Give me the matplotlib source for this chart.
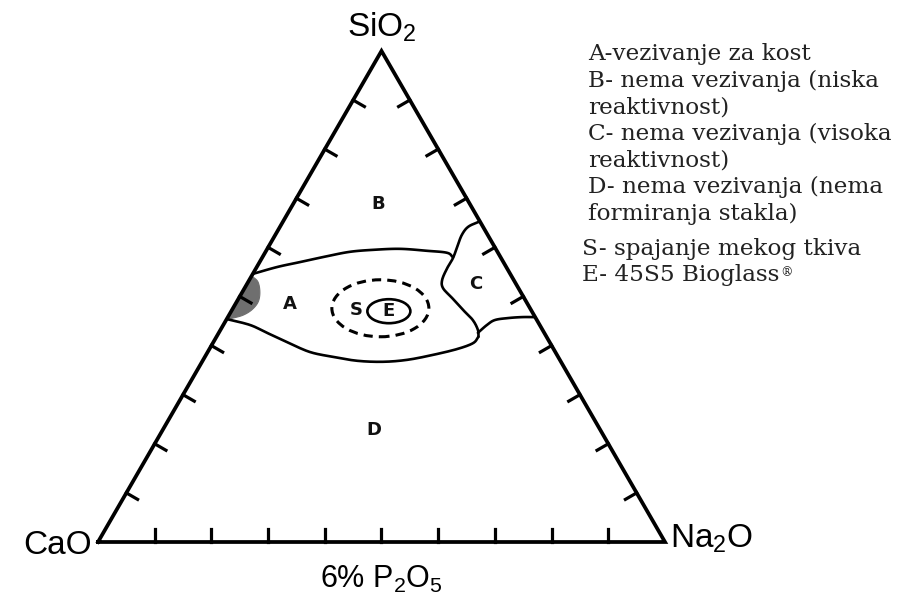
import numpy as np
import matplotlib
matplotlib.use("Agg")
import matplotlib.pyplot as plt
from matplotlib.patches import Ellipse, Polygon

plt.rcParams['mathtext.fontset'] = 'custom'
plt.rcParams['mathtext.rm'] = 'Liberation Sans'
plt.rcParams['mathtext.it'] = 'Liberation Sans:italic'
plt.rcParams['mathtext.bf'] = 'Liberation Sans:bold'

# ---------------- data (wt%: SiO2, Na2O; CaO = rest) ----------------
vertex_labels = ["CaO", "Na$_2$O", "SiO$_2$"]
base_label = "6% P$_2$O$_5$"
tick_values = [10, 20, 30, 40, 50, 60, 70, 80, 90]

a_upper_sio2 = [54.6, 56.0, 57.0, 58.2, 59.1, 59.5, 59.7, 59.3, 58.9, 58.0]
a_upper_na2o = [0.0, 3.6, 7.1, 11.3, 14.9, 18.8, 23.4, 28.4, 32.1, 33.6]

a_lower_sio2 = [45.4, 44.2, 42.6, 40.7, 38.7, 37.7, 36.9, 36.7, 37.1, 38.1, 39.3, 40.5, 41.8]
a_lower_na2o = [0.0, 4.7, 8.5, 13.0, 18.0, 22.6, 27.3, 31.9, 36.0, 40.0, 43.7, 45.9, 46.2]

c_left_sio2 = [65.3, 64.2, 62.5, 60.1, 57.8, 55.8, 53.4, 51.7, 49.7, 47.3, 45.2, 43.2, 41.8]
c_left_na2o = [34.7, 33.2, 32.9, 33.3, 33.7, 33.7, 34.0, 35.0, 37.6, 40.7, 43.5, 45.4, 46.2]

c_bottom_sio2 = [42.6, 44.2, 45.2, 45.6, 45.8, 45.8]
c_bottom_na2o = [45.7, 46.5, 47.4, 49.5, 51.9, 54.2]

blob_sio2 = [54.2, 53.0, 50.9, 48.9, 47.3, 46.2, 45.6, 45.3]
blob_na2o = [0.0, 1.7, 3.1, 3.8, 3.5, 2.5, 1.0, 0.0]

s_center = (47.6, 26.0)    # soft-tissue bonding zone centre (SiO2, Na2O)
e_center = (47.0, 27.8)    # 45S5 Bioglass centre

region_names = ["A", "B", "C", "D", "S", "E"]
region_sio2 = [48.5, 68.8, 52.5, 22.8, 47.3, 47.0]
region_na2o = [9.6, 15.0, 40.4, 37.3, 21.9, 27.8]

legend_lines = [
    "A-vezivanje za kost",
    "B- nema vezivanja (niska",
    "reaktivnost)",
    "C- nema vezivanja (visoka",
    "reaktivnost)",
    "D- nema vezivanja (nema",
    "formiranja stakla)",
]
legend_lines2 = ["S- spajanje mekog tkiva", "E- 45S5 Bioglass"]

# ---------------- helpers ----------------
H = np.sqrt(3) / 2


def to_xy(si, na):
    si = np.asarray(si, float) / 100.0
    na = np.asarray(na, float) / 100.0
    return na + si / 2.0, si * H


def smooth(x, y, n=12):
    """Catmull-Rom rendering of a polyline through the given points."""
    p = np.column_stack([x, y])
    p = np.vstack([p[0] * 2 - p[1], p, p[-1] * 2 - p[-2]])
    out = []
    t = np.linspace(0, 1, n, endpoint=False)[:, None]
    for i in range(1, len(p) - 2):
        p0, p1, p2, p3 = p[i - 1], p[i], p[i + 1], p[i + 2]
        seg = 0.5 * ((2 * p1) + (-p0 + p2) * t + (2 * p0 - 5 * p1 + 4 * p2 - p3) * t ** 2
                     + (-p0 + 3 * p1 - 3 * p2 + p3) * t ** 3)
        out.append(seg)
    out.append(p[-2][None, :])
    out = np.vstack(out)
    return out[:, 0], out[:, 1]


W, Hpx = 899, 609
fig = plt.figure(figsize=(W / 100, Hpx / 100), dpi=100)
ax = fig.add_axes([0, 0, 1, 1])
side_px = 567.0
ax.set_xlim(-98 / side_px, (W - 98) / side_px)
ax.set_ylim(-(Hpx - 542) / side_px, 542 / side_px)
ax.axis('off')

# triangle
tri_x = [0, 1, 0.5, 0]
tri_y = [0, 0, H, 0]
ax.plot(tri_x, tri_y, color='black', lw=2.7, solid_joinstyle='miter', zorder=5)

# ticks
tl = 13 / side_px
for v in tick_values:
    f = v / 100.0
    ax.plot([f, f], [0, tl], color='black', lw=2.3, zorder=5)
    px, py = to_xy(v, 0)
    ax.plot([px, px + tl * np.cos(np.radians(-30))], [py, py + tl * np.sin(np.radians(-30))],
            color='black', lw=2.3, zorder=5)
    px, py = to_xy(v, 100 - v)
    ax.plot([px, px + tl * np.cos(np.radians(210))], [py, py + tl * np.sin(np.radians(210))],
            color='black', lw=2.3, zorder=5)

# grey blob
bx, by = to_xy(blob_sio2, blob_na2o)
bx, by = smooth(bx, by, 8)
ax.add_patch(Polygon(np.column_stack([bx, by]), closed=True, facecolor='#6f6f6f',
                     edgecolor='#6f6f6f', lw=0.8, zorder=3))

# boundaries
for si, na in [(a_upper_sio2, a_upper_na2o), (a_lower_sio2, a_lower_na2o),
               (c_left_sio2, c_left_na2o), (c_bottom_sio2, c_bottom_na2o)]:
    x, y = to_xy(si, na)
    x, y = smooth(x, y)
    ax.plot(x, y, color='black', lw=1.9, solid_capstyle='round', solid_joinstyle='round', zorder=4)

# ellipses
sx, sy = to_xy(*s_center)
ax.add_patch(Ellipse((sx, sy), 97 / side_px, 57 / side_px, fill=False, edgecolor='black',
                     lw=2.2, linestyle=(0, (3.0, 2.0)), zorder=4))
ex, ey = to_xy(*e_center)
ax.add_patch(Ellipse((ex, ey), 43 / side_px, 24 / side_px, fill=False, edgecolor='black',
                     lw=1.9, zorder=4))

# region letters
for name, si, na in zip(region_names, region_sio2, region_na2o):
    x, y = to_xy(si, na)
    ax.text(x, y, name, ha='center', va='center', fontsize=13, fontweight='bold',
            family='DejaVu Sans', color='#111111', zorder=6)

# vertex labels
cx, cy = to_xy(0, 0)
ax.text(cx - 6 / side_px, cy - 3 / side_px, vertex_labels[0], ha='right', va='center',
        fontsize=24, family='Liberation Sans')
nx, ny = to_xy(0, 100)
ax.text(nx + 5 / side_px, ny + 3 / side_px, vertex_labels[1], ha='left', va='center',
        fontsize=24, family='Liberation Sans')
sx2, sy2 = to_xy(100, 0)
ax.text(sx2, sy2 + 7 / side_px, vertex_labels[2], ha='center', va='bottom',
        fontsize=24, family='Liberation Sans')
ax.text(0.5, -22 / side_px, base_label, ha='center', va='top', fontsize=22,
        family='Liberation Sans')

# legend text (figure pixel positions)
lx = 588 / W
for i, line in enumerate(legend_lines):
    fig.text(lx, 1 - (60 + 26.7 * i) / Hpx, line, ha='left', va='baseline',
             fontsize=16.7, family='DejaVu Serif', color='#222222')
lx2 = 582 / W
texts = []
for i, line in enumerate(legend_lines2):
    t = fig.text(lx2, 1 - (255 + 26 * i) / Hpx, line, ha='left', va='baseline',
                 fontsize=16.7, family='DejaVu Serif', color='#222222')
    texts.append(t)

fig.canvas.draw()
r = fig.canvas.get_renderer()
bb = texts[-1].get_window_extent(r)
fig.text((bb.x1 + 1) / W, (bb.y0 + 10) / Hpx, "®", ha='left', va='baseline',
         fontsize=9, family='DejaVu Serif', color='#222222')

fig.savefig("out.png", dpi=100)
